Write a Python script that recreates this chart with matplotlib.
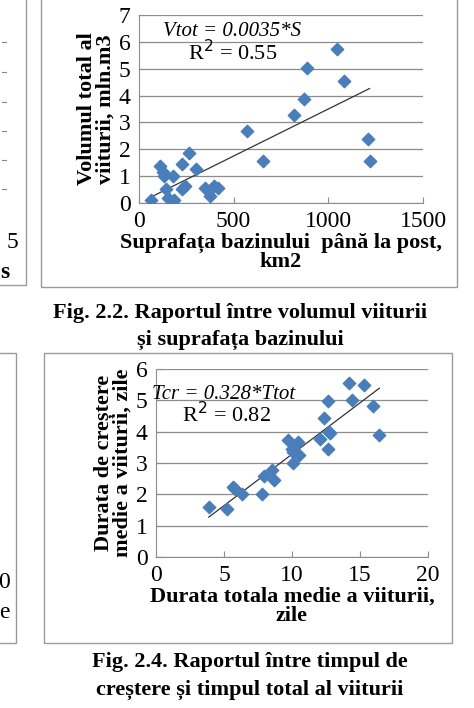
import matplotlib
matplotlib.use("Agg")
import matplotlib.pyplot as plt
from matplotlib.patches import Rectangle
import numpy as np

S = [65,109,127,130,144,153,180,183,227,229,243,262,301,347,373,394,417,569,655,817,870,887,1046,1085,1210,1218]
V = [0.1,1.38,1.16,1.0,0.53,0.19,1.0,0.12,1.47,0.53,0.62,1.87,1.28,0.57,0.25,0.62,0.57,2.67,1.58,3.27,3.87,5.02,5.72,4.56,2.39,1.58]
Ttot = [3.88,5.2,5.69,5.82,6.36,7.83,7.95,8.52,8.71,9.74,9.99,10.06,10.11,10.43,10.48,12.07,12.32,12.64,12.69,12.8,12.64,14.18,14.43,15.26,15.98,16.42]
Tcr = [1.59,1.54,2.25,2.18,2.0,2.02,2.57,2.78,2.46,3.74,3.44,3.34,2.99,3.68,3.27,3.77,4.44,4.99,4.0,3.95,3.44,5.55,5.02,5.5,4.81,3.9]
k_top, k_bot = 0.0035, 0.328

W, H = 474, 708
fig = plt.figure(figsize=(W/100, H/100), dpi=100)
serif = "Liberation Serif"
blue = "#4a7ebb"

def fx(px): return px / W
def fy(py): return 1 - py / H

for (x0, y0, x1, y1) in [(41, -2, 457, 287), (44, 353, 452, 643), (-5, -2, 26, 285), (-5, 353, 16, 643)]:
    fig.add_artist(Rectangle((fx(x0), fy(y1)), fx(x1 - x0), (y1 - y0) / H, transform=fig.transFigure,
                             fill=False, ec="#9a9a9a", lw=1.0))
for py in [42, 72, 102, 131, 160, 189]:
    fig.add_artist(plt.Line2D([fx(2), fx(6)], [fy(py), fy(py)], color="#888", lw=0.8))
fig.text(fx(7), fy(243), "5", fontsize=17, family=serif, va="center")
fig.text(fx(0), fy(272), "s", fontsize=17, family=serif, weight="bold", va="center")
fig.text(fx(-2), fy(583), "0", fontsize=17, family=serif, va="center")
fig.text(fx(-1), fy(612), "e", fontsize=17, family=serif, va="center")

def style(ax, xt, yt):
    ax.set_xticks(xt); ax.set_yticks(yt)
    ax.grid(axis="y", color="#8c8c8c", lw=0.9)
    ax.set_axisbelow(True)
    for s in ["top", "right"]:
        ax.spines[s].set_visible(False)
    for s in ["left", "bottom"]:
        ax.spines[s].set_color("#8c8c8c")
    ax.tick_params(labelsize=17, colors="#8c8c8c", labelcolor="black", direction="in", length=4, pad=6)
    for t in ax.get_xticklabels() + ax.get_yticklabels():
        t.set_family(serif)

lab = dict(fontsize=16, family=serif, weight="bold", linespacing=0.95)

ax1 = fig.add_axes([fx(139), fy(203), fx(423 - 139), (203 - 15) / H])
ax1.scatter(S, V, marker="D", s=40, color=blue, zorder=3)
xs = np.array([min(S), max(S)])
ax1.plot(xs, k_top * xs, color="#333333", lw=0.9)
ax1.set_xlim(0, 1500); ax1.set_ylim(0, 7)
style(ax1, [0, 500, 1000, 1500], range(0, 8))
ax1.text(125, 6.2, "Vtot = 0.0035*S", fontsize=15, style="italic", family=serif)
ax1.text(260, 5.3, "R$^2$ = 0.55", fontsize=16, family=serif)
ax1.set_xlabel("Suprafața bazinului  până la post,\nkm2", labelpad=0, **lab)
ax1.set_ylabel("Volumul total al\nviiturii, mln.m3", labelpad=2, **lab)

ax2 = fig.add_axes([fx(156), fy(557), fx(428 - 156), (557 - 369) / H])
ax2.scatter(Ttot, Tcr, marker="D", s=40, color=blue, zorder=3)
xs = np.array([min(Ttot), max(Ttot)])
ax2.plot(xs, k_bot * xs, color="#333333", lw=0.9)
ax2.set_xlim(0, 20); ax2.set_ylim(0, 6)
style(ax2, [0, 5, 10, 15, 20], range(0, 7))
ax2.text(-0.3, 5.05, "Tcr = 0.328*Ttot", fontsize=15, style="italic", family=serif)
ax2.text(1.9, 4.3, "R$^2$ = 0.82", fontsize=16, family=serif)
ax2.set_xlabel("Durata totala medie a viiturii,\nzile", labelpad=0, **lab)
ax2.set_ylabel("Durata de creștere\nmedie a viiturii, zile", labelpad=2, **lab)

cap = dict(fontsize=16, family=serif, weight="bold", ha="center", va="center")
fig.text(fx(240), fy(313), "Fig. 2.2. Raportul între volumul viiturii", **cap)
fig.text(fx(240), fy(340), "și suprafața bazinului", **cap)
fig.text(fx(250), fy(662), "Fig. 2.4. Raportul între timpul de", **cap)
fig.text(fx(250), fy(690), "creștere și timpul total al viiturii", **cap)

fig.savefig("out.png", dpi=100)
